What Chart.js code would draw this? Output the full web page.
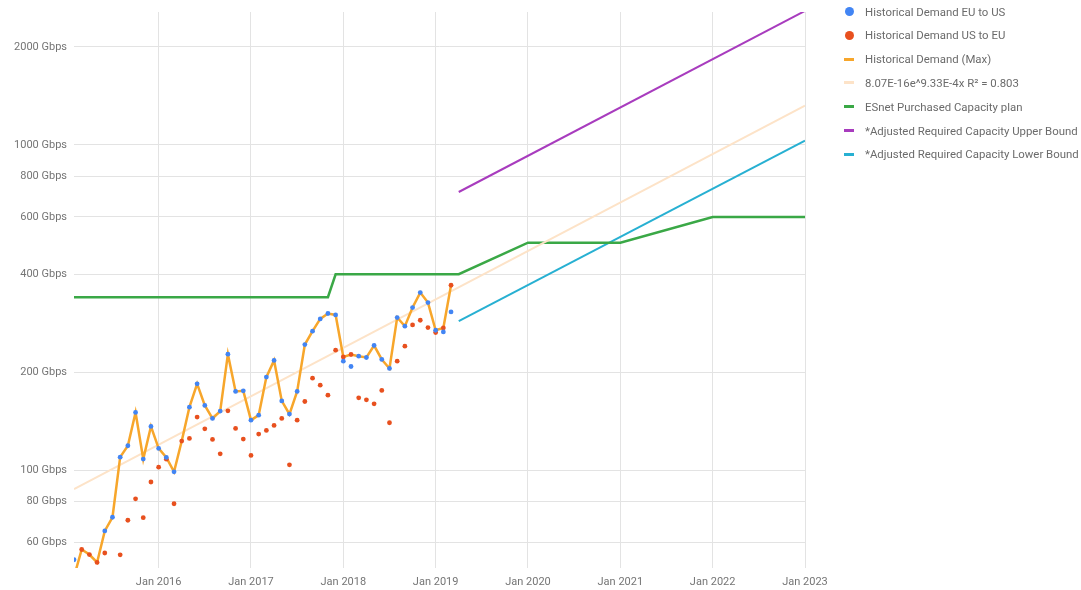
<!DOCTYPE html>
<html>
<head>
<meta charset="utf-8">
<script src="https://cdn.jsdelivr.net/npm/chart.js@4"></script>
<style>
  body { margin: 0; background: #fff; font-family: Roboto, sans-serif; }
  #wrap { position: relative; width: 1081px; height: 590px; }
  .lg-row { position: absolute; left: 865px; font-size: 11.4px; color: #6b6b6b; white-space: nowrap; line-height: 14px; height: 14px; }
  .lg-mark { position: absolute; }
</style>
</head>
<body>
<div id="wrap"><canvas id="chart"></canvas><div id="legend"></div></div>
<script>
// monthly demand, Gbps
const months = [
  '2015-02','2015-03','2015-04','2015-05','2015-06','2015-07','2015-08','2015-09','2015-10','2015-11','2015-12',
  '2016-01','2016-02','2016-03','2016-04','2016-05','2016-06','2016-07','2016-08','2016-09','2016-10','2016-11','2016-12',
  '2017-01','2017-02','2017-03','2017-04','2017-05','2017-06','2017-07','2017-08','2017-09','2017-10','2017-11','2017-12',
  '2018-01','2018-02','2018-03','2018-04','2018-05','2018-06','2018-07','2018-08','2018-09','2018-10','2018-11','2018-12',
  '2019-01','2019-02','2019-03'
];
const euToUs = [
  53, null, null, null, 65, 71.6, 109.6, 118.8, 150.4, 108.1, 136.2,
  116.6, 109.4, 98.8, null, 156.1, 184.1, 158, 144.1, 151.8, 227.1, 174.5, 175.2,
  142.4, 147.5, 193.1, 217.3, 163.2, 148.6, 174.5, 243.2, 267.3, 291.5, 302.9, 299.9,
  216.2, 208.2, 224, 221.9, 241.5, 218.8, 205.3, 294.4, 276.9, 316, 351.3, 327.3,
  269.1, 265.9, 306.4
];
const usToEu = [
  null, 57, 55, 52, 55.6, null, 54.9, 70.1, 81.6, 71.4, 91.9,
  102.1, 108, 78.8, 122.8, 125.1, 145.5, 133.9, 124.2, 112.2, 152.1, 134.3, 124.5,
  110.9, 129, 132.4, 137.2, 144.1, 103.8, 142.4, 162.5, 191.7, 182.4, 169.9, 233.7,
  222.8, 226.6, 166.8, 164.4, 159.8, 175.7, 139.8, 216.2, 240.4, 279.4, 288.8, 274.3,
  264.8, 273.5, 370
];
const maxDemand = [
  47, 57, 55, 52, 65, 71.6, 109.6, 118.8, 150.4, 108.1, 136.2,
  116.6, 109.4, 98.8, 122.8, 156.1, 184.1, 158, 144.1, 151.8, 227.1, 174.5, 175.2,
  142.4, 147.5, 193.1, 217.3, 163.2, 148.6, 174.5, 243.2, 267.3, 291.5, 302.9, 299.9,
  222.8, 226.6, 224, 221.9, 241.5, 218.8, 205.3, 294.4, 276.9, 316, 351.3, 327.3,
  269.1, 273.5, 370
];

const trendMonths = ['2015-02', '2023-01'];
const trendValues = [87.4, 1320];

const capacityMonths = ['2015-02','2017-11','2017-12','2019-04','2020-01','2021-01','2022-01','2023-01'];
const capacityValues = [340, 340, 400, 400, 500, 500, 600, 600];

const boundMonths = ['2019-04', '2023-01'];
const upperBound = [716, 2580];
const lowerBound = [287, 1030];

const yTicks = [60, 80, 100, 200, 400, 600, 800, 1000, 2000];
const xTickYears = [2016, 2017, 2018, 2019, 2020, 2021, 2022, 2023];

// months counted from Jan 2015
function monthIndex(m) {
  const [y, mo] = m.split('-').map(Number);
  return (y - 2015) * 12 + (mo - 1);
}
function toPoints(ms, vals) {
  return ms.map((m, i) => ({ x: monthIndex(m), y: vals[i] }));
}

const gridColor = '#e3e3e3';
const axisText = '#757575';

const chart = new Chart(document.getElementById('chart'), {
  type: 'line',
  data: {
    datasets: [
      { label: 'Historical Demand EU to US', data: toPoints(months, euToUs), showLine: false,
        pointRadius: 2.4, pointBorderWidth: 0, backgroundColor: '#4285f4', borderColor: '#4285f4', marker: 'dot' },
      { label: 'Historical Demand US to EU', data: toPoints(months, usToEu), showLine: false,
        pointRadius: 2.4, pointBorderWidth: 0, backgroundColor: '#e8501e', borderColor: '#e8501e', marker: 'dot' },
      { label: 'Historical Demand (Max)', data: toPoints(months, maxDemand),
        borderColor: '#f7a62b', borderWidth: 2.5, pointRadius: 0 },
      { label: '8.07E-16e^9.33E-4x R² = 0.803', data: toPoints(trendMonths, trendValues),
        borderColor: '#fde3c8', borderWidth: 2, pointRadius: 0 },
      { label: 'ESnet Purchased Capacity plan', data: toPoints(capacityMonths, capacityValues),
        borderColor: '#3aa846', borderWidth: 2.5, pointRadius: 0 },
      { label: '*Adjusted Required Capacity Upper Bound', data: toPoints(boundMonths, upperBound),
        borderColor: '#a83cbe', borderWidth: 2, pointRadius: 0 },
      { label: '*Adjusted Required Capacity Lower Bound', data: toPoints(boundMonths, lowerBound),
        borderColor: '#27b0d2', borderWidth: 2, pointRadius: 0 }
    ]
  },
  options: {
    responsive: true,
    maintainAspectRatio: false,
    animation: false,
    layout: { padding: { top: 12, right: 276, bottom: 0, left: 0 } },
    plugins: { legend: { display: false }, tooltip: { enabled: false } },
    elements: { line: { tension: 0 } },
    scales: {
      x: {
        type: 'linear',
        bounds: 'data',
        min: 1,
        max: 96,
        afterBuildTicks: (s) => { s.ticks = xTickYears.map(y => ({ value: (y - 2015) * 12 })); },
        afterFit: (s) => { s.height = 22; },
        grid: { color: gridColor, drawTicks: false },
        border: { display: false },
        ticks: {
          autoSkip: false, maxRotation: 0, padding: 8,
          color: axisText, font: { family: 'Roboto', size: 11 },
          callback: (v) => 'Jan ' + (2015 + v / 12)
        }
      },
      y: {
        type: 'logarithmic',
        bounds: 'data',
        min: 50,
        max: 2560,
        afterBuildTicks: (s) => { s.ticks = yTicks.map(v => ({ value: v })); },
        afterFit: (s) => { s.width = 74; },
        grid: { color: gridColor, drawTicks: true, tickLength: 7, tickColor: 'rgba(0,0,0,0)' },
        border: { display: false },
        ticks: {
          padding: 0,
          color: axisText, font: { family: 'Roboto', size: 11 },
          callback: (v) => v + ' Gbps'
        }
      }
    }
  }
});

// legend on the right
const legend = document.getElementById('legend');
chart.data.datasets.forEach((ds, i) => {
  const cy = 11.5 + i * 23.8;
  const row = document.createElement('div');
  row.className = 'lg-row';
  row.style.top = (cy - 7) + 'px';
  row.textContent = ds.label;
  legend.appendChild(row);

  const mark = document.createElement('div');
  mark.className = 'lg-mark';
  if (ds.marker === 'dot') {
    mark.style.cssText += `left:${849 - 4.5}px;top:${cy - 4.5}px;width:9px;height:9px;border-radius:50%;background:${ds.backgroundColor};`;
  } else {
    mark.style.cssText += `left:${849 - 5}px;top:${cy - 1.5}px;width:10px;height:3px;background:${ds.borderColor};`;
  }
  legend.appendChild(mark);
});
</script>
</body>
</html>
